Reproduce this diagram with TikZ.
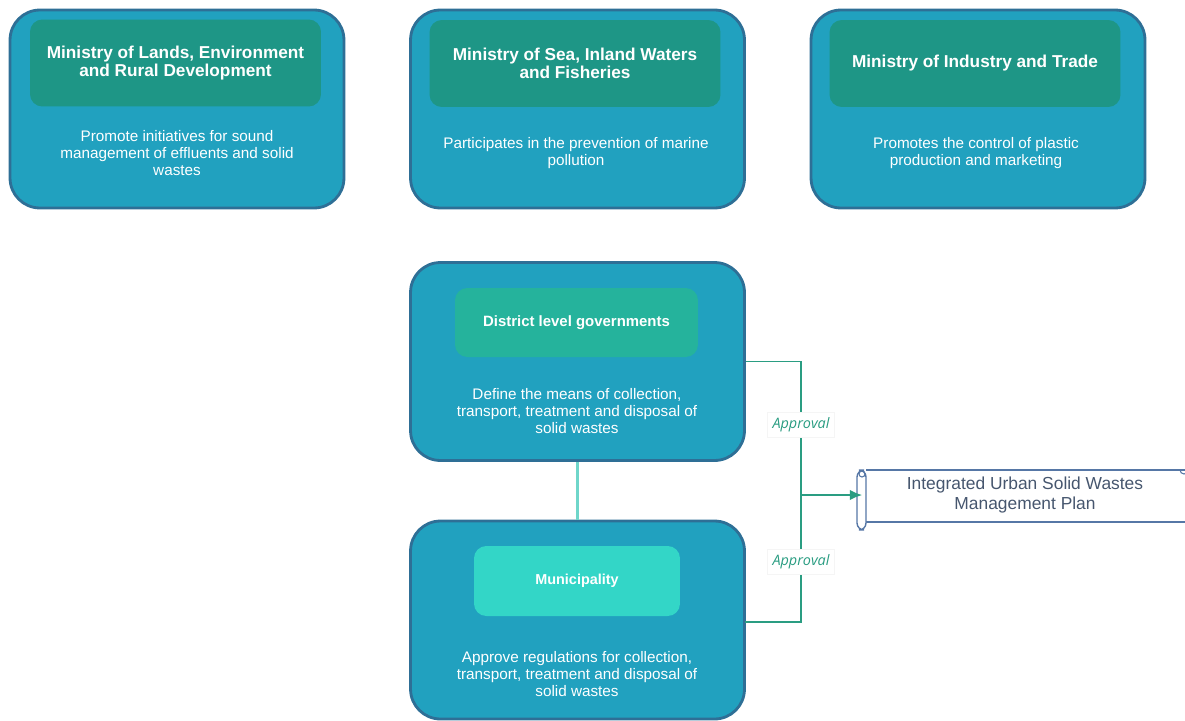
\documentclass[tikz,border=0pt]{standalone}
\usepackage{fontspec}
\setmainfont{Liberation Sans}
\newfontfamily\notefont{Open Sans}
\usetikzlibrary{arrows.meta}
\definecolor{outerblue}{HTML}{21A1BF}
\definecolor{outerline}{HTML}{2E6F96}
\definecolor{headteal}{HTML}{1E9686}
\definecolor{districtteal}{HTML}{25B39C}
\definecolor{munteal}{HTML}{33D6C7}
\definecolor{linkgreen}{HTML}{2A9D82}
\definecolor{stemteal}{HTML}{6FD6CA}
\definecolor{plantext}{HTML}{46566E}
\definecolor{planline}{HTML}{5677A6}
\tikzset{
 agency/.style={draw=outerline,line width=1.6pt,fill=outerblue,rounded corners=17pt,minimum width=6.68cm,minimum height=3.96cm},
 head/.style={fill=headteal,rounded corners=7pt,minimum width=5.82cm,minimum height=1.74cm,text=white,font=\fontsize{9.8}{10}\selectfont\bfseries,align=center},
 duty/.style={text=white,font=\fontsize{8.7}{9.7}\selectfont,align=center},
 link/.style={draw=linkgreen,line width=1.1pt},
 approval/.style={fill=white,draw=black!4,text=linkgreen,font=\fontsize{8.2}{9}\selectfont\notefont\itshape,inner sep=3pt}
}
\begin{document}
\begin{tikzpicture}[x=0.02cm,y=-0.02cm]
\useasboundingbox (0,0) rectangle (1185,720);
\clip (0,0) rectangle (1185,720);
% ministries
\node[agency] (lands) at (177,109) {};
\node[head] (landshead) at (175.5,63) {Ministry of Lands, Environment\\and Rural Development};
\node[duty] (landsduty) at (177,153) {Promote initiatives for sound\\management  of effluents and solid\\wastes};
\node[agency] (sea) at (577.5,109) {};
\node[head] (seahead) at (575,63.5) {Ministry of Sea, Inland Waters\\and Fisheries};
\node[duty] (seaduty) at (576,153.5) {Participates in the prevention of marine\\pollution};
\node[agency] (trade) at (978,109) {};
\node[head] (tradehead) at (975,63.5) {Ministry of Industry and Trade};
\node[duty] (tradeduty) at (976,153.5) {Promotes the control of plastic\\production and marketing};
% local level
\node[agency] (district) at (577.5,361.5) {};
\node[head,fill=districtteal,minimum width=4.86cm,minimum height=1.38cm,font=\fontsize{8.5}{9.7}\selectfont\bfseries] (districthead) at (576.5,322.5) {District  level governments};
\node[duty] (districtduty) at (577,411) {Define the means of collection,\\transport, treatment and disposal of\\solid wastes};
\node[agency] (municipality) at (577.5,620) {};
\node[head,fill=munteal,minimum width=4.12cm,minimum height=1.4cm,font=\fontsize{8.2}{9.7}\selectfont\bfseries] (munhead) at (577,581) {Municipality};
\node[duty] (munduty) at (577,674) {Approve regulations for collection,\\transport, treatment and disposal of\\solid wastes};
\draw[stemteal,line width=1.3pt] (district.south) -- (municipality.north);
% plan scroll
\node[text=plantext,font=\fontsize{9.9}{11.5}\selectfont,align=center,minimum width=6.5cm,minimum height=1.2cm] (plan) at (1025,495) {Integrated Urban Solid Wastes\\Management Plan};
\draw[planline,line width=0.8pt,fill=white] (866,470) -- (1200,470) (866,522) -- (1200,522);
\draw[planline,line width=0.8pt,fill=white,rounded corners=4pt] (857,470) rectangle (866,530);
\draw[planline,line width=0.6pt] (862,474) circle (3);
\draw[planline,line width=0.6pt] (1180,470) arc (180:0:4);
% approvals
\coordinate (split) at (801,495);
\draw[link] (district.east) -- (801,361.5) -- (801,622) -- (745,622);
\draw[link,-{Latex[length=7pt,width=6pt]}] (split) -- (plan.west);
\node[approval] (approvaltop) at (801,425) {Approval};
\node[approval] (approvalbottom) at (801,562) {Approval};
\end{tikzpicture}
\end{document}
